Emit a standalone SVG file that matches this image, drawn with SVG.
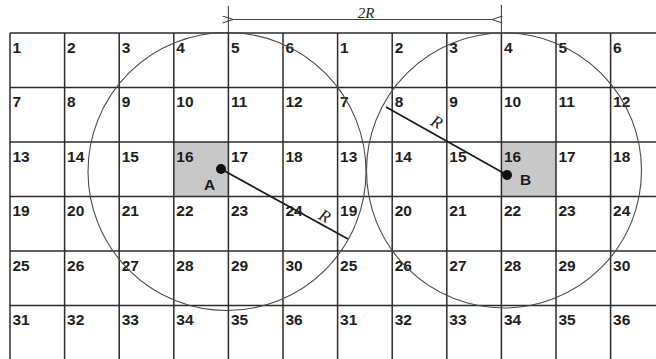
<svg xmlns="http://www.w3.org/2000/svg" width="656" height="359" viewBox="0 0 656 359">
<defs>
<style>
.grid line{stroke:#2b2b2b;stroke-width:1.5}
.num text{font-family:"Liberation Sans",Arial,sans-serif;font-weight:bold;font-size:15.5px;fill:#1e1e1e}
.circ{fill:none;stroke:#4a4a4a;stroke-width:1.1}
.rad{stroke:#1a1a1a;stroke-width:1.7}
.lbl{font-family:"Liberation Sans",Arial,sans-serif;font-weight:bold;font-size:15.5px;fill:#1a1a1a}
.it{font-family:"Liberation Serif","Times New Roman",serif;font-style:italic;font-size:17px;fill:#222}
.dim{stroke:#444;stroke-width:1.1;fill:none}
.shade{fill:#c8c8c8}
</style>
<marker id="ah" viewBox="0 0 12 8" refX="0.5" refY="4" markerWidth="12" markerHeight="8" markerUnits="userSpaceOnUse" orient="auto-start-reverse">
<path d="M11,0.5 L0.5,4 L11,7.5" fill="none" stroke="#444" stroke-width="1.1"/>
</marker>
</defs>
<rect width="656" height="359" fill="#fff"/>
<g id="shading">
<rect class="shade" x="173.8" y="142" width="54.6" height="54.5"/>
<rect class="shade" x="501.4" y="142" width="54.6" height="54.5"/>
</g>
<g id="grid" class="grid">
<line x1="10" y1="33" x2="10" y2="359"/>
<line x1="64.6" y1="33" x2="64.6" y2="359"/>
<line x1="119.2" y1="33" x2="119.2" y2="359"/>
<line x1="173.8" y1="33" x2="173.8" y2="359"/>
<line x1="228.4" y1="33" x2="228.4" y2="359"/>
<line x1="283" y1="33" x2="283" y2="359"/>
<line x1="337.6" y1="33" x2="337.6" y2="359"/>
<line x1="392.2" y1="33" x2="392.2" y2="359"/>
<line x1="446.8" y1="33" x2="446.8" y2="359"/>
<line x1="501.4" y1="33" x2="501.4" y2="359"/>
<line x1="556" y1="33" x2="556" y2="359"/>
<line x1="610.6" y1="33" x2="610.6" y2="359"/>
<line x1="10" y1="33" x2="656" y2="33"/>
<line x1="10" y1="87.5" x2="656" y2="87.5"/>
<line x1="10" y1="142" x2="656" y2="142"/>
<line x1="10" y1="196.5" x2="656" y2="196.5"/>
<line x1="10" y1="251" x2="656" y2="251"/>
<line x1="10" y1="305.5" x2="656" y2="305.5"/>
</g>
<g id="numbers" class="num">
<text x="12.5" y="52.5">1</text><text x="67.1" y="52.5">2</text><text x="121.7" y="52.5">3</text><text x="176.3" y="52.5">4</text><text x="230.9" y="52.5">5</text><text x="285.5" y="52.5">6</text><text x="340.1" y="52.5">1</text><text x="394.7" y="52.5">2</text><text x="449.3" y="52.5">3</text><text x="503.9" y="52.5">4</text><text x="558.5" y="52.5">5</text><text x="613.1" y="52.5">6</text>
<text x="12.5" y="107">7</text><text x="67.1" y="107">8</text><text x="121.7" y="107">9</text><text x="176.3" y="107">10</text><text x="230.9" y="107">11</text><text x="285.5" y="107">12</text><text x="340.1" y="107">7</text><text x="394.7" y="107">8</text><text x="449.3" y="107">9</text><text x="503.9" y="107">10</text><text x="558.5" y="107">11</text><text x="613.1" y="107">12</text>
<text x="12.5" y="161.5">13</text><text x="67.1" y="161.5">14</text><text x="121.7" y="161.5">15</text><text x="176.3" y="161.5">16</text><text x="230.9" y="161.5">17</text><text x="285.5" y="161.5">18</text><text x="340.1" y="161.5">13</text><text x="394.7" y="161.5">14</text><text x="449.3" y="161.5">15</text><text x="503.9" y="161.5">16</text><text x="558.5" y="161.5">17</text><text x="613.1" y="161.5">18</text>
<text x="12.5" y="216">19</text><text x="67.1" y="216">20</text><text x="121.7" y="216">21</text><text x="176.3" y="216">22</text><text x="230.9" y="216">23</text><text x="285.5" y="216">24</text><text x="340.1" y="216">19</text><text x="394.7" y="216">20</text><text x="449.3" y="216">21</text><text x="503.9" y="216">22</text><text x="558.5" y="216">23</text><text x="613.1" y="216">24</text>
<text x="12.5" y="270.5">25</text><text x="67.1" y="270.5">26</text><text x="121.7" y="270.5">27</text><text x="176.3" y="270.5">28</text><text x="230.9" y="270.5">29</text><text x="285.5" y="270.5">30</text><text x="340.1" y="270.5">25</text><text x="394.7" y="270.5">26</text><text x="449.3" y="270.5">27</text><text x="503.9" y="270.5">28</text><text x="558.5" y="270.5">29</text><text x="613.1" y="270.5">30</text>
<text x="12.5" y="325">31</text><text x="67.1" y="325">32</text><text x="121.7" y="325">33</text><text x="176.3" y="325">34</text><text x="230.9" y="325">35</text><text x="285.5" y="325">36</text><text x="340.1" y="325">31</text><text x="394.7" y="325">32</text><text x="449.3" y="325">33</text><text x="503.9" y="325">34</text><text x="558.5" y="325">35</text><text x="613.1" y="325">36</text>
</g>
<g id="circles">
<circle class="circ" cx="227" cy="171.5" r="139"/>
<circle class="circ" cx="504" cy="170.5" r="137.5"/>
</g>
<g id="connectors">
<line class="rad" x1="221" y1="169" x2="348" y2="239"/>
<line class="rad" x1="386" y1="107" x2="507" y2="175"/>
<line class="dim" x1="228.4" y1="6" x2="228.4" y2="33"/>
<line class="dim" x1="501.4" y1="5" x2="501.4" y2="33"/>
<line class="dim" x1="233" y1="19.5" x2="492" y2="19.5" marker-start="url(#ah)" marker-end="url(#ah)"/>
<text class="it" x="366" y="18" text-anchor="middle" style="font-size:15px">2R</text>
<text class="it" x="0" y="0" text-anchor="middle" transform="translate(322,221) rotate(29)">R</text>
<text class="it" x="0" y="0" text-anchor="middle" transform="translate(434,127) rotate(29)">R</text>
</g>
<g id="pointA">
<circle cx="221" cy="169" r="5" fill="#111"/>
<text class="lbl" x="204" y="190">A</text>
</g>
<g id="pointB">
<circle cx="507" cy="175" r="5" fill="#111"/>
<text class="lbl" x="520" y="185">B</text>
</g>
</svg>
